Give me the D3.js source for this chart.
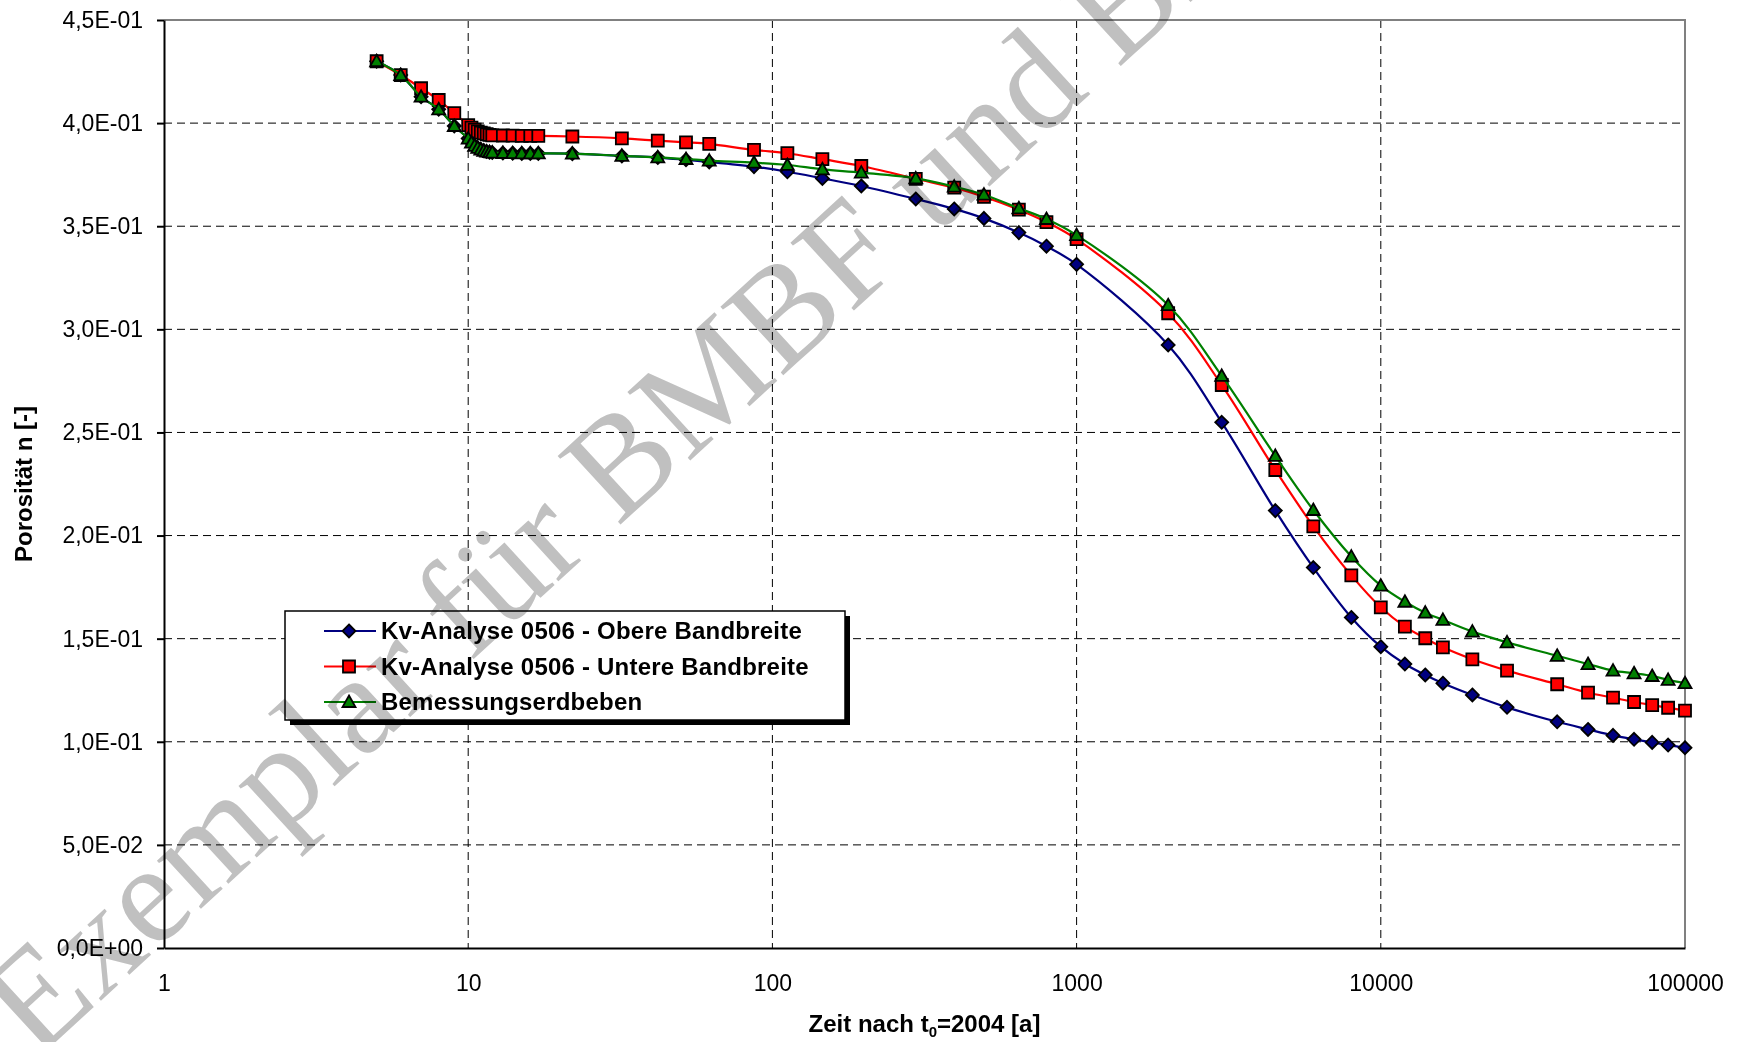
<!DOCTYPE html>
<html><head><meta charset="utf-8">
<script src="https://cdn.jsdelivr.net/npm/d3@7"></script>
<style>body{margin:0;background:#fff;overflow:hidden}</style>
</head><body>
<svg id="chart" width="1743" height="1042"></svg>
<script>
// ---- data ----
const times = [5,6,7,8,9,
  10,10.25,10.5,10.75,11,11.25,11.5,11.75,12,
  13,14,15,16,17,
  22,32,42,52,62,
  87,112,146,196,
  296,396,496,646,796,1000,
  2000,3000,4500,6000,8000,
  10000,12000,14000,16000,20000,26000,
  38000,48000,58000,68000,78000,88000,100000];

const obereValues = [0.430,0.4233,0.4128,0.4067,0.3986,
  0.3925,0.3905,0.3890,0.3880,0.3872,0.3866,0.3862,0.3859,0.3857,
  0.3855,0.3854,0.3853,0.3853,0.3853,
  0.3852,0.3841,0.3833,0.3822,0.3812,
  0.3789,0.3764,0.3732,0.3695,
  0.3632,0.3584,0.3538,0.3469,0.3403,0.3315,
  0.2924,0.2549,0.2121,0.1845,0.1603,
  0.1461,0.1377,0.1324,0.1284,0.1227,0.1167,
  0.1097,0.1060,0.1031,0.1012,0.0997,0.0984,0.0971];

const untereValues = [0.430,0.4233,0.4169,0.4112,0.4048,
  0.3990,0.3978,0.3968,0.3960,0.3954,0.3950,0.3946,0.3943,0.3941,
  0.3940,0.3939,0.3938,0.3938,0.3938,
  0.3935,0.3926,0.3915,0.3907,0.3899,
  0.3870,0.3854,0.3825,0.3792,
  0.3730,0.3687,0.3643,0.3580,0.3520,0.3437,
  0.3078,0.2730,0.2318,0.2045,0.1807,
  0.1652,0.1558,0.1502,0.1458,0.1400,0.1345,
  0.1279,0.1238,0.1214,0.1193,0.1178,0.1165,0.1151];

const bemessungValues = [0.430,0.4233,0.4128,0.4067,0.3986,
  0.3925,0.3905,0.3890,0.3880,0.3872,0.3866,0.3862,0.3859,0.3857,
  0.3855,0.3854,0.3853,0.3853,0.3853,
  0.3852,0.3841,0.3834,0.3826,0.3818,
  0.3808,0.3797,0.3776,0.3760,
  0.3732,0.3692,0.3653,0.3587,0.3535,0.3457,
  0.3117,0.2774,0.2386,0.2124,0.1898,
  0.1757,0.1679,0.1626,0.1591,0.1534,0.1482,
  0.1417,0.1377,0.1345,0.1332,0.1319,0.1300,0.1284];

const seriesNames = ["Kv-Analyse 0506 - Obere Bandbreite", "Kv-Analyse 0506 - Untere Bandbreite", "Bemessungserdbeben"];
const xTickValues = [1, 10, 100, 1000, 10000, 100000];
const xTickLabels = ["1", "10", "100", "1000", "10000", "100000"];
const yTickValues = [0, 0.05, 0.10, 0.15, 0.20, 0.25, 0.30, 0.35, 0.40, 0.45];
const yTickLabels = ["0,0E+00", "5,0E-02", "1,0E-01", "1,5E-01", "2,0E-01", "2,5E-01", "3,0E-01", "3,5E-01", "4,0E-01", "4,5E-01"];
const xTitle = "Zeit nach t";
const yTitle = "Porosität n [-]";
const watermarkText = "Exemplar für BMBF und BMU";

// ---- layout ----
const L = 164, R = 1685, T = 20, B = 948;
const svg = d3.select("#chart");
const x = d3.scaleLog().domain([1, 100000]).range([L, R]);
const y = d3.scaleLinear().domain([0, 0.45]).range([B, T]);
const FONT = "'Liberation Sans', Arial, sans-serif";

svg.append("rect").attr("width", 1743).attr("height", 1042).attr("fill", "#fff");

// gridlines
const grid = svg.append("g");
grid.selectAll("line.h").data(yTickValues.filter(v => v > 0 && v < 0.45)).join("line")
  .attr("x1", L).attr("x2", R).attr("y1", d => y(d)).attr("y2", d => y(d))
  .attr("stroke", "#000").attr("stroke-width", 1).attr("stroke-dasharray", "8,5");
grid.selectAll("line.v").data(xTickValues.filter(v => v > 1 && v < 100000)).join("line")
  .attr("y1", T).attr("y2", B).attr("x1", d => x(d)).attr("x2", d => x(d))
  .attr("stroke", "#000").attr("stroke-width", 1).attr("stroke-dasharray", "8,5");

// top / right border (gray)
svg.append("path").attr("d", `M${L},${T}H${R}V${B}`).attr("fill", "none")
  .attr("stroke", "#808080").attr("stroke-width", 2);

// axes
const yAxis = d3.axisLeft(y).tickValues(yTickValues)
  .tickFormat((d, i) => yTickLabels[i]).tickSize(7).tickSizeOuter(0).tickPadding(14);
const gy = svg.append("g").attr("transform", `translate(${L},0)`).call(yAxis);
gy.selectAll("text").attr("font-family", FONT).attr("font-size", 23).attr("fill", "#000");
gy.selectAll("line").attr("stroke", "#000").attr("stroke-width", 2);
gy.select(".domain").attr("stroke", "#000").attr("stroke-width", 2);

const xAxis = d3.axisBottom(x).tickValues(xTickValues)
  .tickFormat((d, i) => xTickLabels[i]).tickSize(0).tickSizeOuter(0).tickPadding(27);
const gx = svg.append("g").attr("transform", `translate(0,${B})`).call(xAxis);
gx.selectAll("text").attr("font-family", FONT).attr("font-size", 23).attr("fill", "#000");
gx.select(".domain").attr("stroke", "#000").attr("stroke-width", 2);

// axis titles
const xt = svg.append("text").attr("x", (L + R) / 2).attr("y", 1032)
  .attr("text-anchor", "middle").attr("font-family", FONT).attr("font-weight", "bold")
  .attr("font-size", 24).attr("fill", "#000");
xt.append("tspan").text(xTitle);
xt.append("tspan").attr("dy", 5).attr("font-size", 15).text("0");
xt.append("tspan").attr("dy", -5).text("=2004 [a]");

svg.append("text").attr("transform", `translate(32,${(T + B) / 2}) rotate(-90)`)
  .attr("text-anchor", "middle").attr("font-family", FONT).attr("font-weight", "bold")
  .attr("font-size", 24).attr("fill", "#000").text(yTitle);

// series
const symbols = {
  diamond: "M0,-6.5L6.5,0L0,6.5L-6.5,0Z",
  square: "M-6,-6H6V6H-6Z",
  triangle: "M0,-6.5L6.5,5L-6.5,5Z"
};
const series = [
  { name: seriesNames[0], values: obereValues, color: "#000080", sym: "diamond" },
  { name: seriesNames[1], values: untereValues, color: "#ff0000", sym: "square" },
  { name: seriesNames[2], values: bemessungValues, color: "#008000", sym: "triangle" }
];
const line = d3.line().x(d => x(d[0])).y(d => y(d[1])).curve(d3.curveCatmullRom.alpha(0.5));
series.forEach(s => {
  const pts = times.map((t, i) => [t, s.values[i]]);
  const g = svg.append("g");
  g.append("path").attr("d", line(pts)).attr("fill", "none")
    .attr("stroke", s.color).attr("stroke-width", 2.2);
  g.selectAll("path.m").data(pts).join("path").attr("class", "m")
    .attr("d", symbols[s.sym])
    .attr("transform", d => `translate(${x(d[0])},${y(d[1])})`)
    .attr("fill", s.color).attr("stroke", "#000").attr("stroke-width", 1.8);
});

// legend
const lg = svg.append("g");
lg.append("rect").attr("x", 290).attr("y", 616).attr("width", 560).attr("height", 109).attr("fill", "#000");
lg.append("rect").attr("x", 285).attr("y", 611).attr("width", 560).attr("height", 109)
  .attr("fill", "#fff").attr("stroke", "#000").attr("stroke-width", 1.5);
const ly = [631, 666.5, 702];
series.forEach((s, i) => {
  lg.append("line").attr("x1", 324).attr("x2", 376).attr("y1", ly[i]).attr("y2", ly[i])
    .attr("stroke", s.color).attr("stroke-width", 2.2);
  lg.append("path").attr("d", symbols[s.sym]).attr("transform", `translate(349,${ly[i]})`)
    .attr("fill", s.color).attr("stroke", "#000").attr("stroke-width", 1.8);
  lg.append("text").attr("x", 381).attr("y", ly[i]).attr("dy", "0.35em")
    .attr("font-family", FONT).attr("font-weight", "bold").attr("font-size", 24)
    .attr("letter-spacing", 0.22).attr("fill", "#000").text(s.name);
});

// watermark
svg.append("text").attr("transform", "translate(36,1060) rotate(-42.5)")
  .attr("font-family", "'Liberation Serif', 'Times New Roman', serif").attr("font-size", 142)
  .attr("fill", "#c0c0c0").style("mix-blend-mode", "multiply").text(watermarkText);
</script>
</body></html>
